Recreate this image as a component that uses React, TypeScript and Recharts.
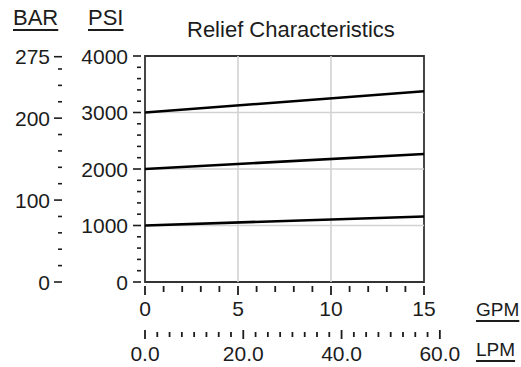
import React from 'react';
import {
  LineChart,
  Line,
  XAxis,
  YAxis,
  ReferenceLine,
  ReferenceArea
} from 'recharts';

// flow in GPM and relief pressure (PSI) for the three valve settings
const gpm = [0, 15];
const lowSetting = [1000, 1160];
const midSetting = [2000, 2265];
const highSetting = [3000, 3375];

const psiTicks = [0, 200, 400, 600, 800, 1000, 1200, 1400, 1600, 1800, 2000, 2200, 2400, 2600, 2800, 3000, 3200, 3400, 3600, 3800, 4000];
const psiLabels = [0, 1000, 2000, 3000, 4000];
const barTicks = [0, 20, 40, 60, 80, 100, 120, 140, 160, 180, 200, 220, 240, 260, 275];
const barLabels = [0, 100, 200, 275];
const gpmTicks = [0, 1, 2, 3, 4, 5, 6, 7, 8, 9, 10, 11, 12, 13, 14, 15];
const gpmLabels = [0, 5, 10, 15];
const lpmTicks = [0, 2.5, 5, 7.5, 10, 12.5, 15, 17.5, 20, 22.5, 25, 27.5, 30, 32.5, 35, 37.5, 40, 42.5, 45, 47.5, 50, 52.5, 55, 57.5, 60];
const lpmLabels = [0, 20, 40, 60];
const gridX = [5, 10];
const gridY = [1000, 2000, 3000];

const PSI_PER_BAR = 14.5;
const LPM_PER_GPM = 3.785;

// axis ids: recharts stacks left axes by id, so the psi axis sorts first to sit next to the plot
const PSI = 'a_psi';
const BAR = 'b_bar';

const data = gpm.map((g, i) => ({
  gpm: g,
  lpm: g * LPM_PER_GPM,
  low: lowSetting[i],
  mid: midSetting[i],
  high: highSetting[i],
  lowBar: lowSetting[i] / PSI_PER_BAR
}));

const FONT = '"Liberation Sans", Arial, sans-serif';
const INK = '#1c1c1c';
const TICK_FONT = 21;

const makeYTick = (labels: number[], labelGap: number) => (props: any) => {
  const { x, y, payload } = props;
  const major = labels.includes(payload.value);
  return (
    <g>
      <line x1={x - (major ? 12 : 8)} x2={x - 4} y1={y} y2={y} stroke={INK} strokeWidth={1.6} />
      {major && (
        <text x={x - labelGap} y={y} dy="0.36em" textAnchor="end" fontSize={TICK_FONT} fontFamily={FONT} fill={INK}>
          {payload.value}
        </text>
      )}
    </g>
  );
};

const GpmTick = (props: any) => {
  const { x, y, payload } = props;
  const major = gpmLabels.includes(payload.value);
  return (
    <g>
      <line x1={x} x2={x} y1={y + 4} y2={y + (major ? 13 : 10)} stroke={INK} strokeWidth={1.8} />
      {major && (
        <text x={x} y={y + 34} textAnchor="middle" fontSize={TICK_FONT} fontFamily={FONT} fill={INK}>
          {payload.value}
        </text>
      )}
    </g>
  );
};

const LpmTick = (props: any) => {
  const { x, y, payload } = props;
  const major = lpmLabels.includes(payload.value);
  return (
    <g>
      <line x1={x} x2={x} y1={y + (major ? 8 : 10)} y2={y + (major ? 17 : 15)} stroke={INK} strokeWidth={1.8} />
      {major && (
        <text x={x} y={y + 39} textAnchor="middle" fontSize={TICK_FONT} fontFamily={FONT} fill={INK}>
          {payload.value.toFixed(1)}
        </text>
      )}
    </g>
  );
};

const label = (text: string, left: number, top: number, underline = true, size = 19) => (
  <div
    style={{
      position: 'absolute',
      left,
      top,
      fontSize: size,
      lineHeight: 1,
      fontFamily: FONT,
      color: INK,
      whiteSpace: 'nowrap',
      textDecoration: underline ? 'underline' : 'none',
      textUnderlineOffset: 4,
      textDecorationThickness: 1.5
    }}
  >
    {text}
  </div>
);

export default function App() {
  return (
    <div style={{ position: 'absolute', left: 0, top: 0, width: 521, height: 367, background: '#fff' }}>
      <LineChart width={521} height={367} data={data} margin={{ top: 56, right: 97, bottom: 0, left: 0 }}>
        <XAxis
          xAxisId="gpm"
          dataKey="gpm"
          type="number"
          domain={[0, 15]}
          ticks={gpmTicks}
          interval={0}
          height={40}
          tickSize={0}
          tickMargin={0}
          axisLine={false}
          tickLine={false}
          tick={GpmTick}
        />
        <XAxis
          xAxisId="lpm"
          dataKey="lpm"
          type="number"
          domain={[0, 15 * LPM_PER_GPM]}
          allowDataOverflow
          ticks={lpmTicks}
          interval={0}
          height={45}
          tickSize={0}
          tickMargin={0}
          axisLine={false}
          tickLine={false}
          tick={LpmTick}
        />
        <YAxis
          yAxisId={PSI}
          type="number"
          domain={[0, 4000]}
          ticks={psiTicks}
          interval={0}
          width={79}
          tickSize={0}
          tickMargin={0}
          axisLine={false}
          tickLine={false}
          tick={makeYTick(psiLabels, 17)}
        />
        <YAxis
          yAxisId={BAR}
          type="number"
          domain={[0, 4000 / PSI_PER_BAR]}
          allowDataOverflow
          ticks={barTicks}
          interval={0}
          width={66}
          tickSize={0}
          tickMargin={0}
          axisLine={false}
          tickLine={false}
          tick={makeYTick(barLabels, 16)}
        />
        {gridX.map((v) => (
          <ReferenceLine key={`gx-${v}`} x={v} xAxisId="gpm" yAxisId={PSI} stroke="#d2d2d2" strokeWidth={1.6} />
        ))}
        {gridY.map((v) => (
          <ReferenceLine key={`gy-${v}`} y={v} xAxisId="gpm" yAxisId={PSI} stroke="#d2d2d2" strokeWidth={1.6} />
        ))}
        {/* invisible twin of the low line so the metric axes have data of their own */}
        <Line xAxisId="lpm" yAxisId={BAR} type="linear" dataKey="lowBar" stroke="none" dot={false} legendType="none" isAnimationActive={false} />
        <Line xAxisId="gpm" yAxisId={PSI} type="linear" dataKey="low" stroke="#000" strokeWidth={2.6} dot={false} isAnimationActive={false} />
        <Line xAxisId="gpm" yAxisId={PSI} type="linear" dataKey="mid" stroke="#000" strokeWidth={2.6} dot={false} isAnimationActive={false} />
        <Line xAxisId="gpm" yAxisId={PSI} type="linear" dataKey="high" stroke="#000" strokeWidth={2.6} dot={false} isAnimationActive={false} />
        <ReferenceArea
          xAxisId="gpm"
          yAxisId={PSI}
          x1={0}
          x2={15}
          y1={0}
          y2={4000}
          fill="none"
          fillOpacity={0}
          stroke="#333"
          strokeWidth={1.8}
        />
      </LineChart>
      {label('Relief Characteristics', 187, 19, false, 22)}
      {label('BAR', 13, 7, true, 22)}
      {label('PSI', 88, 7, true, 22)}
      {label('GPM', 476, 300)}
      {label('LPM', 476, 340)}
    </div>
  );
}
